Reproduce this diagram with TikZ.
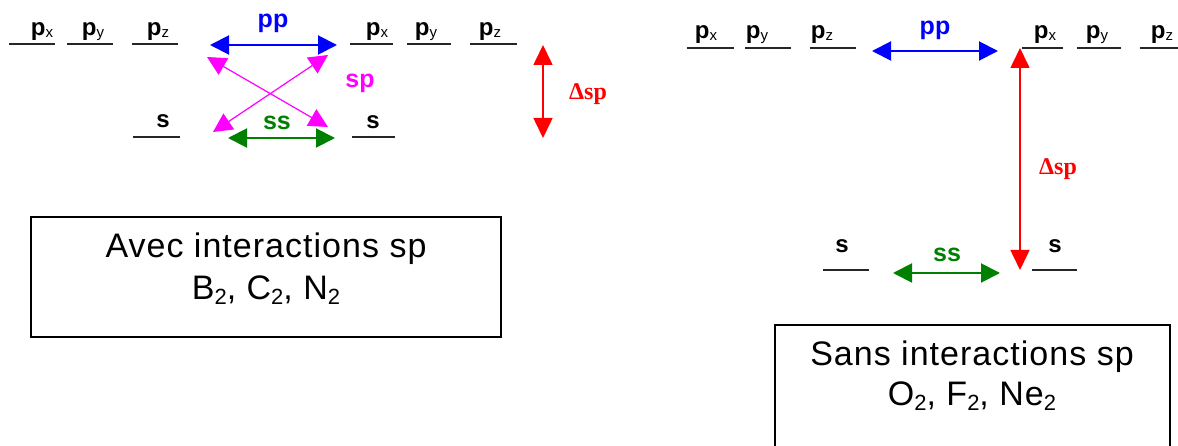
\documentclass[tikz,border=0pt]{standalone}
\usepackage{fontspec}
\setmainfont{Liberation Sans}
\newfontfamily\serifb{Liberation Serif}
\newfontfamily\boxfont[LetterSpace=3]{Liberation Sans}
\usetikzlibrary{arrows.meta}
\definecolor{ppblue}{RGB}{0,0,255}
\definecolor{spmag}{RGB}{255,0,255}
\definecolor{ssgreen}{RGB}{0,128,0}
\definecolor{dred}{RGB}{255,0,0}
\newcommand{\orbsub}[1]{\raisebox{-1.5pt}{\fontsize{15}{15}\selectfont\mdseries #1}}
\newcommand{\molsub}[1]{\raisebox{-5pt}{\fontsize{22}{22}\selectfont #1}}
\tikzset{
  lvl/.style={line width=2pt, draw=black!85},
  orb/.style={font=\fontsize{24}{24}\selectfont\bfseries, anchor=base, inner sep=0pt},
  intlab/.style={font=\fontsize{25}{25}\selectfont\bfseries, anchor=base, inner sep=0pt},
  dlab/.style={font=\serifb\fontsize{24}{24}\selectfont\bfseries, anchor=base, inner sep=0pt, text=dred},
  bigtip/.style={{Triangle[length=19pt,width=19pt]}-{Triangle[length=19pt,width=19pt]}},
  pparrow/.style={bigtip, draw=ppblue, fill=ppblue, line width=2pt},
  sparrow/.style={bigtip, draw=spmag, fill=spmag, line width=1.2pt},
  ssarrow/.style={bigtip, draw=ssgreen, fill=ssgreen, line width=2pt},
  darrow/.style={{Triangle[length=20pt,width=19pt]}-{Triangle[length=20pt,width=19pt]}, draw=dred, fill=dred, line width=1.6pt},
  box/.style={draw=black, line width=1.5pt, inner sep=0pt},
  boxtext/.style={font=\boxfont\fontsize{34}{34}\selectfont, anchor=base, inner sep=0pt}
}
\begin{document}
\begin{tikzpicture}[x=1pt,y=-1pt]
\useasboundingbox (0,0) rectangle (1178,446);

% ---------- Left diagram ----------
\draw[lvl] (9,44) -- (55,44);
\draw[lvl] (67,44) -- (113,44);
\draw[lvl] (132,44) -- (178,44);
\draw[lvl] (350,44) -- (393,44);
\draw[lvl] (407,44) -- (451,44);
\draw[lvl] (470,44) -- (517,44);
\draw[lvl] (133,137) -- (180,137);
\draw[lvl] (352,137) -- (395,137);

\node[orb] (Lpx1) at (42,36) {p\orbsub{x}};
\node[orb] (Lpy1) at (93,36) {p\orbsub{y}};
\node[orb] (Lpz1) at (158,36) {p\orbsub{z}};
\node[orb] (Lpx2) at (377,36) {p\orbsub{x}};
\node[orb] (Lpy2) at (426,36) {p\orbsub{y}};
\node[orb] (Lpz2) at (490,36) {p\orbsub{z}};
\node[orb] (Ls1) at (163,128) {s};
\node[orb] (Ls2) at (373,129) {s};

\coordinate (LppA) at (210,45);
\coordinate (LppB) at (337,45);
\draw[pparrow] (LppA) -- (LppB);
\node[intlab, text=ppblue] (Lpp) at (273,28) {pp};

\coordinate (Lsp1A) at (207,57);
\coordinate (Lsp1B) at (328,127);
\coordinate (Lsp2A) at (213,132);
\coordinate (Lsp2B) at (328,55);
\draw[sparrow] (Lsp1A) -- (Lsp1B);
\draw[sparrow] (Lsp2A) -- (Lsp2B);
\node[intlab, text=spmag] (Lsp) at (360,88) {sp};

\coordinate (LssA) at (228,138);
\coordinate (LssB) at (335,138);
\draw[ssarrow] (LssA) -- (LssB);
\node[intlab, text=ssgreen] (Lss) at (277,130) {ss};

\coordinate (LdA) at (543,45);
\coordinate (LdB) at (543,138);
\draw[darrow] (LdA) -- (LdB);
\node[dlab] (Ld) at (588,100) {Δsp};

\node[box, minimum width=470pt, minimum height=120pt] (boxL) at (266,277) {};
\node[boxtext] (boxL1) at (266,258) {Avec interactions sp};
\node[boxtext] (boxL2) at (266,300) {B\molsub{2}, C\molsub{2}, N\molsub{2}};

% ---------- Right diagram ----------
\draw[lvl] (687,48) -- (734,48);
\draw[lvl] (745,48) -- (791,48);
\draw[lvl] (810,48) -- (856,48);
\draw[lvl] (1022,48) -- (1063,48);
\draw[lvl] (1077,48) -- (1121,48);
\draw[lvl] (1140,48) -- (1178,48);
\draw[lvl] (823,270) -- (869,270);
\draw[lvl] (1032,270) -- (1077,270);

\node[orb] (Rpx1) at (706,39) {p\orbsub{x}};
\node[orb] (Rpy1) at (757,39) {p\orbsub{y}};
\node[orb] (Rpz1) at (822,39) {p\orbsub{z}};
\node[orb] (Rpx2) at (1045,39) {p\orbsub{x}};
\node[orb] (Rpy2) at (1097,39) {p\orbsub{y}};
\node[orb] (Rpz2) at (1162,39) {p\orbsub{z}};
\node[orb] (Rs1) at (842,253) {s};
\node[orb] (Rs2) at (1055,253) {s};

\coordinate (RppA) at (872,51);
\coordinate (RppB) at (998,51);
\draw[pparrow] (RppA) -- (RppB);
\node[intlab, text=ppblue] (Rpp) at (935,35) {pp};

\coordinate (RdA) at (1020,48);
\coordinate (RdB) at (1020,270);
\draw[darrow] (RdA) -- (RdB);
\node[dlab] (Rd) at (1058,175) {Δsp};

\coordinate (RssA) at (893,273);
\coordinate (RssB) at (1000,273);
\draw[ssarrow] (RssA) -- (RssB);
\node[intlab, text=ssgreen] (Rss) at (947,262) {ss};

\node[box, minimum width=395pt, minimum height=140pt] (boxR) at (972.5,395) {};
\node[boxtext] (boxR1) at (972,365) {Sans interactions sp};
\node[boxtext] (boxR2) at (972,405) {O\molsub{2}, F\molsub{2}, Ne\molsub{2}};
\end{tikzpicture}
\end{document}
